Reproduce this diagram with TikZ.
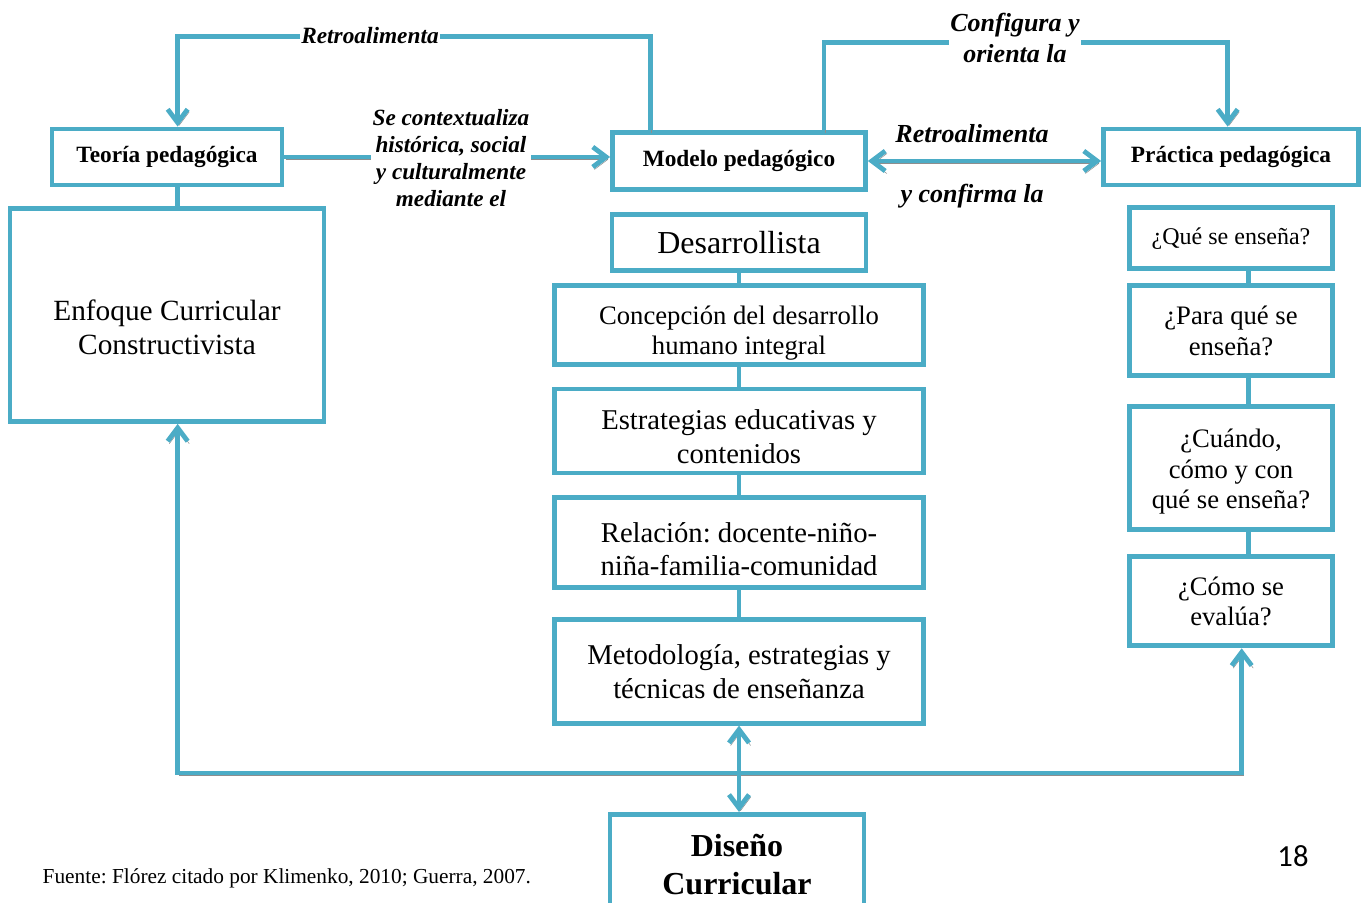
\documentclass[tikz,border=0pt]{standalone}
\usepackage{fontspec}
\setmainfont{Liberation Serif}
\newfontfamily\numfont{Carlito}
\usetikzlibrary{positioning,arrows.meta,calc}
\definecolor{aqua}{HTML}{4BACC6}
\definecolor{shade}{HTML}{8E8E8E}
\tikzset{>={Straight Barb[length=10pt,width=15pt]}}
\tikzset{
  box/.style={draw=aqua, line width=3.6pt, fill=white, align=center, inner sep=2pt},
  dim/.style 2 args={minimum width=#1*0.75pt, minimum height=#2*0.75pt},
  link/.style={draw=aqua, line width=3.6pt,
    preaction={draw=shade, transform canvas={shift={(1.2pt,-1.9pt)}}}},
  tie/.style={draw=aqua, line width=3.6pt},
  tag/.style={font=\bfseries\itshape, align=center, fill=white, inner sep=1pt}
}
\newcommand\fs[2]{\fontsize{#1}{#2}\selectfont}
\newcommand\sink[1]{\rule{0pt}{#1}}
\frenchspacing

\begin{document}
\begin{tikzpicture}[x=0.75pt, y=-0.75pt]
  \useasboundingbox (0,0) rectangle (1364,903);
  % top row
  \node[box, dim={230}{56}, font=\bfseries\fs{17.5}{21}] (teoria) at (167,157) {Teoría pedagógica};
  \node[box, dim={253}{57}, font=\bfseries\fs{17.5}{21}] (modelo) at (739,161) {Modelo pedagógico};
  \node[box, dim={255}{56}, font=\bfseries\fs{17.5}{21}] (practica) at (1231,157) {Práctica pedagógica};
  \node[box, dim={314}{213}, below=14pt of teoria, font=\fs{22}{25.5}] (enfoque) {\sink{34.5pt}Enfoque Curricular\\Constructivista};
  % middle column
  \node[box, dim={254}{56}, below=15pt of modelo, font=\fs{24}{28}] (desarr) {Desarrollista};
  \node[box, dim={369}{79}, below=7.5pt of desarr, font=\fs{20}{22.5}] (concep) {\sink{27pt}Concepción del desarrollo\\humano integral};
  \node[box, dim={369}{84}, below=15pt of concep, font=\fs{21.5}{25.5}] (estrat) {\sink{23.5pt}Estrategias educativas y\\contenidos};
  \node[box, dim={369}{90}, below=15pt of estrat, font=\fs{21.5}{25}] (relac) {\sink{25pt}Relación: docente-niño-\\niña-familia-comunidad};
  \node[box, dim={369}{104}, below=20pt of relac, font=\fs{21.5}{25.5}] (metod) {Metodología, estrategias y\\técnicas de enseñanza};
  \node[box, dim={254}{100}, anchor=north, font=\bfseries\fs{24}{28}] (diseno) at (737,812) {Diseño\\Curricular};
  % right column
  \node[box, dim={203}{61}, below=13.5pt of practica, font=\fs{18}{21}] (que) {¿Qué se enseña?};
  \node[box, dim={203}{90}, below=9pt of que, font=\fs{20}{23}] (para) {¿Para qué se\\enseña?};
  \node[box, dim={203}{123}, below=19.5pt of para, font=\fs{20}{23}] (cuando) {\sink{19.5pt}¿Cuándo,\\cómo y con\\qué se enseña?};
  \node[box, dim={203}{89}, below=17pt of cuando, font=\fs{20}{23}] (comoev) {¿Cómo se\\evalúa?};

  % connectors
  \draw[link,->] ([xshift=30pt]modelo.north west) -- ++(0,-94) -| ([xshift=8pt]teoria.north);
  \node[tag, font=\bfseries\itshape\fs{17.5}{20}] (retroa) at (370,36) {Retroalimenta};
  \draw[link,->] (teoria.east) -- (teoria.east -| modelo.west);
  \node[tag, font=\bfseries\itshape\fs{17.4}{20.2}] (contexto) at (451,158) {Se contextualiza\\histórica, social\\y culturalmente\\mediante el};
  \draw[link,->] ([xshift=-33pt]modelo.north east) -- ++(0,-88) -| ([xshift=-2.5pt]practica.north);
  \node[tag, font=\bfseries\itshape\fs{19.5}{23}] (configura) at (1015,38) {Configura y\\orienta la};
  \draw[link,<->] (modelo.east) -- (modelo.east -| practica.west);
  \node[tag, font=\bfseries\itshape\fs{19.5}{23}] (retrob) at (972,134) {Retroalimenta};
  \node[tag, font=\bfseries\itshape\fs{19.5}{23}] (confirma) at (972,196) {y confirma la};

  \draw[tie] ([xshift=8pt]teoria.south) -- ([xshift=8pt]teoria.south |- enfoque.north);
  \foreach \a/\b in {desarr/concep, concep/estrat, estrat/relac, relac/metod}
    \draw[tie] (\a.south) -- (\a.south |- \b.north);
  \foreach \a/\b in {que/para, para/cuando, cuando/comoev}
    \draw[tie] ([xshift=13pt]\a.south) -- ([xshift=13pt]\a.south |- \b.north);

  % bottom bus
  \coordinate (bus) at (740,773);
  \draw[link,<->] ([xshift=8pt]enfoque.south) |- (bus) -| ([xshift=8pt]comoev.south);
  \draw[link,<->] (metod.south) -- (metod.south |- diseno.north);

  \node[anchor=west, font=\fs{16}{19}] (fuente) at (38,878) {Fuente: Flórez citado por Klimenko, 2010; Guerra, 2007.};
  \node[font=\numfont\fs{23}{27}] (pagina) at (1293,856) {18};
\end{tikzpicture}
\end{document}
